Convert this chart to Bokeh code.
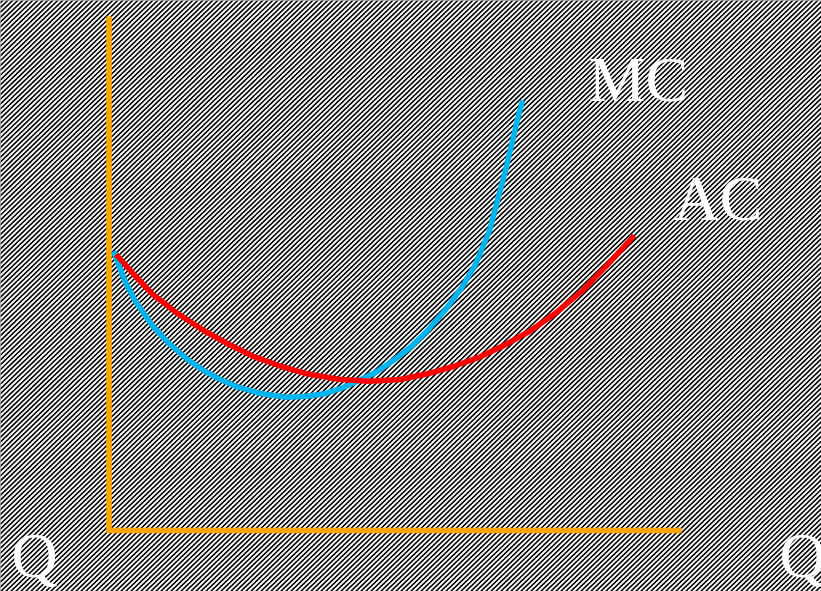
import numpy as np
from bokeh.plotting import figure
from bokeh.models import Range1d
from bokeh.core.properties import value
from bokeh.embed import file_html
from bokeh.resources import INLINE

# ---- data (screen-like units, y grows downward) ----
mc_x = [113.1, 124.1, 134.4, 151.7, 168.9, 186.1, 203.3, 220.5, 237.7, 261.8, 286.0,
        306.6, 323.8, 341.0, 358.3, 375.5, 392.7, 409.9, 427.1, 444.4, 461.6, 475.3,
        489.1, 497.0, 505.0, 512.0, 518.0, 522.0]
mc_y = [250.7, 280.0, 300.0, 325.0, 343.3, 358.3, 370.0, 379.3, 386.7, 393.3, 396.7,
        395.7, 393.3, 387.7, 380.0, 371.7, 360.0, 346.7, 330.0, 310.0, 286.7, 263.3,
        230.0, 200.0, 170.0, 140.0, 115.0, 100.0]

ac_x = [115.5, 134.4, 151.7, 177.5, 203.3, 229.1, 255.0, 280.8, 306.6, 337.6, 368.6,
        399.6, 427.1, 452.9, 478.8, 504.6, 530.4, 556.3, 582.1, 607.9, 633.7]
ac_y = [254.0, 275.0, 293.3, 313.3, 330.0, 344.3, 356.7, 366.0, 373.3, 378.7, 380.7,
        379.0, 373.3, 366.0, 356.7, 344.3, 330.0, 311.7, 290.0, 263.3, 235.0]

axis_v_x = [108.5, 108.5]
axis_v_y = [16, 531]
axis_h_x = [106, 681]
axis_h_y = [530, 530]

labels = ["MC", "AC", "Q", "Q"]
label_x = [588, 673, 11, 779]
label_y = [79, 198, 555, 555]

W, H = 821, 591

p = figure(width=W, height=H, output_backend="svg", toolbar_location=None,
           x_range=Range1d(0, W), y_range=Range1d(H, 0),
           min_border=0, min_border_left=0, min_border_right=0,
           min_border_top=0, min_border_bottom=0,
           background_fill_color="black", border_fill_color="black",
           outline_line_color=None)
p.axis.visible = False
p.grid.visible = False

# background texture: fine diagonal white stripes on black
STRIPE_PERIOD = 5.0
STRIPE_ANGLE = np.deg2rad(44)
run = (H + 20) / np.tan(STRIPE_ANGLE)
starts = np.arange(-run - 10, W + 10, STRIPE_PERIOD)
p.segment(x0=starts, y0=np.full(starts.shape, H + 10.0),
          x1=starts + run, y1=np.full(starts.shape, -10.0),
          line_color="white", line_width=1.9, level="underlay")

p.line(axis_v_x, axis_v_y, line_color="#FFA500", line_width=5.5)
p.line(axis_h_x, axis_h_y, line_color="#FFA500", line_width=5.5)

p.line(mc_x, mc_y, line_color="#00B4F0", line_width=5.5, line_join="round")
p.line(ac_x, ac_y, line_color="#FF0000", line_width=5.5, line_join="round")

p.text(x=label_x, y=label_y, text=labels, text_color="white",
       text_font=value("Liberation Serif"), text_font_size="64px",
       text_baseline="alphabetic", text_align="left")

open("out.html", "w").write(file_html(p, INLINE))
